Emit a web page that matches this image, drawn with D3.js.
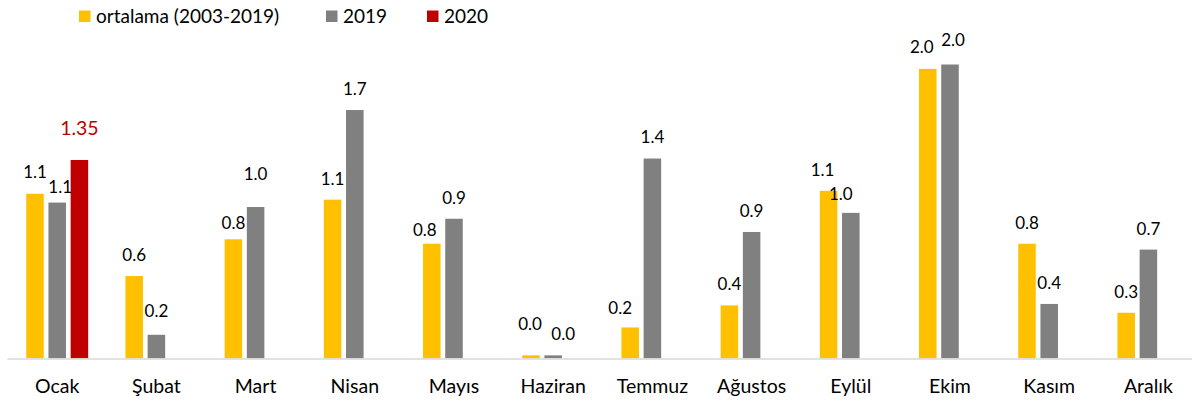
<!DOCTYPE html>
<html>
<head>
<meta charset="utf-8">
<script src="https://cdn.jsdelivr.net/npm/d3@7"></script>
<style>
  html, body { margin: 0; padding: 0; background: #fff; }
  svg { display: block; font-family: Lato, "Open Sans", sans-serif; }
</style>
</head>
<body>
<div id="chart"></div>
<script>
// data
const months = ['Ocak', 'Şubat', 'Mart', 'Nisan', 'Mayıs', 'Haziran', 'Temmuz', 'Ağustos', 'Eylül', 'Ekim', 'Kasım', 'Aralık'];
const seriesNames = ['ortalama (2003-2019)', '2019', '2020'];
const avg0319 = [1.12, 0.56, 0.81, 1.08, 0.78, 0.02, 0.21, 0.36, 1.14, 1.97, 0.78, 0.31];
const y2019 = [1.06, 0.16, 1.03, 1.69, 0.95, 0.02, 1.36, 0.86, 0.99, 2.0, 0.37, 0.74];
const y2020 = [1.35, null, null, null, null, null, null, null, null, null, null, null];

const colors = ['#FFC000', '#808080', '#C00000'];

// hand-moved labels in the original: [dx, dy] from the default spot
const labelNudge = {
  'Ocak|0': [0, -1], 'Ocak|1': [3, 5], 'Ocak|2': [0, -11],
  'Şubat|1': [0, -3],
  'Mart|0': [0, 5], 'Mart|1': [0, -12],
  'Mayıs|0': [-7, 7],
  'Haziran|0': [-1, -10], 'Haziran|1': [10, 0],
  'Temmuz|0': [-10, 2],
  'Eylül|0': [-6, 0], 'Eylül|1': [-10, 2],
  'Ekim|0': [-6, -1], 'Ekim|1': [3, -3]
};

const width = 1192, height = 401;
const baseline = 358.3;

const svg = d3.select('#chart')
  .append('svg')
  .attr('width', width)
  .attr('height', height);

// scales
const x = d3.scaleBand()
  .domain(months)
  .range([7.6, 1198])
  .padding(0);

const x1 = d3.scaleBand()
  .domain([0, 1, 2])
  .range([-33.3, 33.3])
  .paddingInner(0.21)
  .paddingOuter(0.105);

const y = d3.scaleLinear()
  .domain([0, 2.4])
  .range([baseline, baseline - 2.4 * 146.9]);

const rows = [];
months.forEach((m, i) => {
  [avg0319[i], y2019[i], y2020[i]].forEach((v, s) => {
    if (v != null) rows.push({ month: m, s: s, value: v });
  });
});

const cx = d => x(d.month) + x.bandwidth() / 2;

// bars
svg.append('g')
  .selectAll('rect')
  .data(rows)
  .join('rect')
  .attr('x', d => cx(d) + x1(d.s))
  .attr('width', x1.bandwidth())
  .attr('y', d => y(d.value))
  .attr('height', d => baseline - y(d.value))
  .attr('fill', d => colors[d.s]);

// x axis
const xAxis = svg.append('g')
  .attr('transform', `translate(0,${baseline + 0.7})`)
  .call(d3.axisBottom(x).tickSize(0).tickPadding(20));
xAxis.select('.domain').attr('stroke', '#d9d9d9').attr('stroke-width', 1.5)
  .attr('d', `M7.3,0H${width}`);
xAxis.selectAll('.tick text')
  .attr('fill', '#000')
  .style('font-size', '19.5px')
  .style('font-family', 'Lato, sans-serif');

// value labels
const fmt1 = d3.format('.1f'), fmt2 = d3.format('.2f');
svg.append('g')
  .selectAll('text')
  .data(rows)
  .join('text')
  .attr('x', d => {
    const n = labelNudge[d.month + '|' + d.s] || [0, 0];
    return cx(d) + x1(d.s) + x1.bandwidth() / 2 + n[0];
  })
  .attr('y', d => {
    const n = labelNudge[d.month + '|' + d.s] || [0, 0];
    return y(d.value) - 21 + n[1];
  })
  .attr('dy', '0.35em')
  .attr('text-anchor', 'middle')
  .attr('fill', d => d.s === 2 ? '#C00000' : '#000')
  .style('font-size', d => d.s === 2 ? '19.5px' : '17px')
  .text(d => d.s === 2 ? fmt2(d.value) : fmt1(d.value));

// legend
const legendX = [79, 326, 427];
const legend = svg.append('g')
  .selectAll('g')
  .data(seriesNames)
  .join('g')
  .attr('transform', (d, i) => `translate(${legendX[i]},10.5)`);

legend.append('rect')
  .attr('width', 11.5)
  .attr('height', 11.5)
  .attr('fill', (d, i) => colors[i]);

legend.append('text')
  .attr('x', 17)
  .attr('y', 5.75)
  .attr('dy', '0.35em')
  .attr('fill', '#000')
  .style('font-size', '19px')
  .text(d => d);
</script>
</body>
</html>
